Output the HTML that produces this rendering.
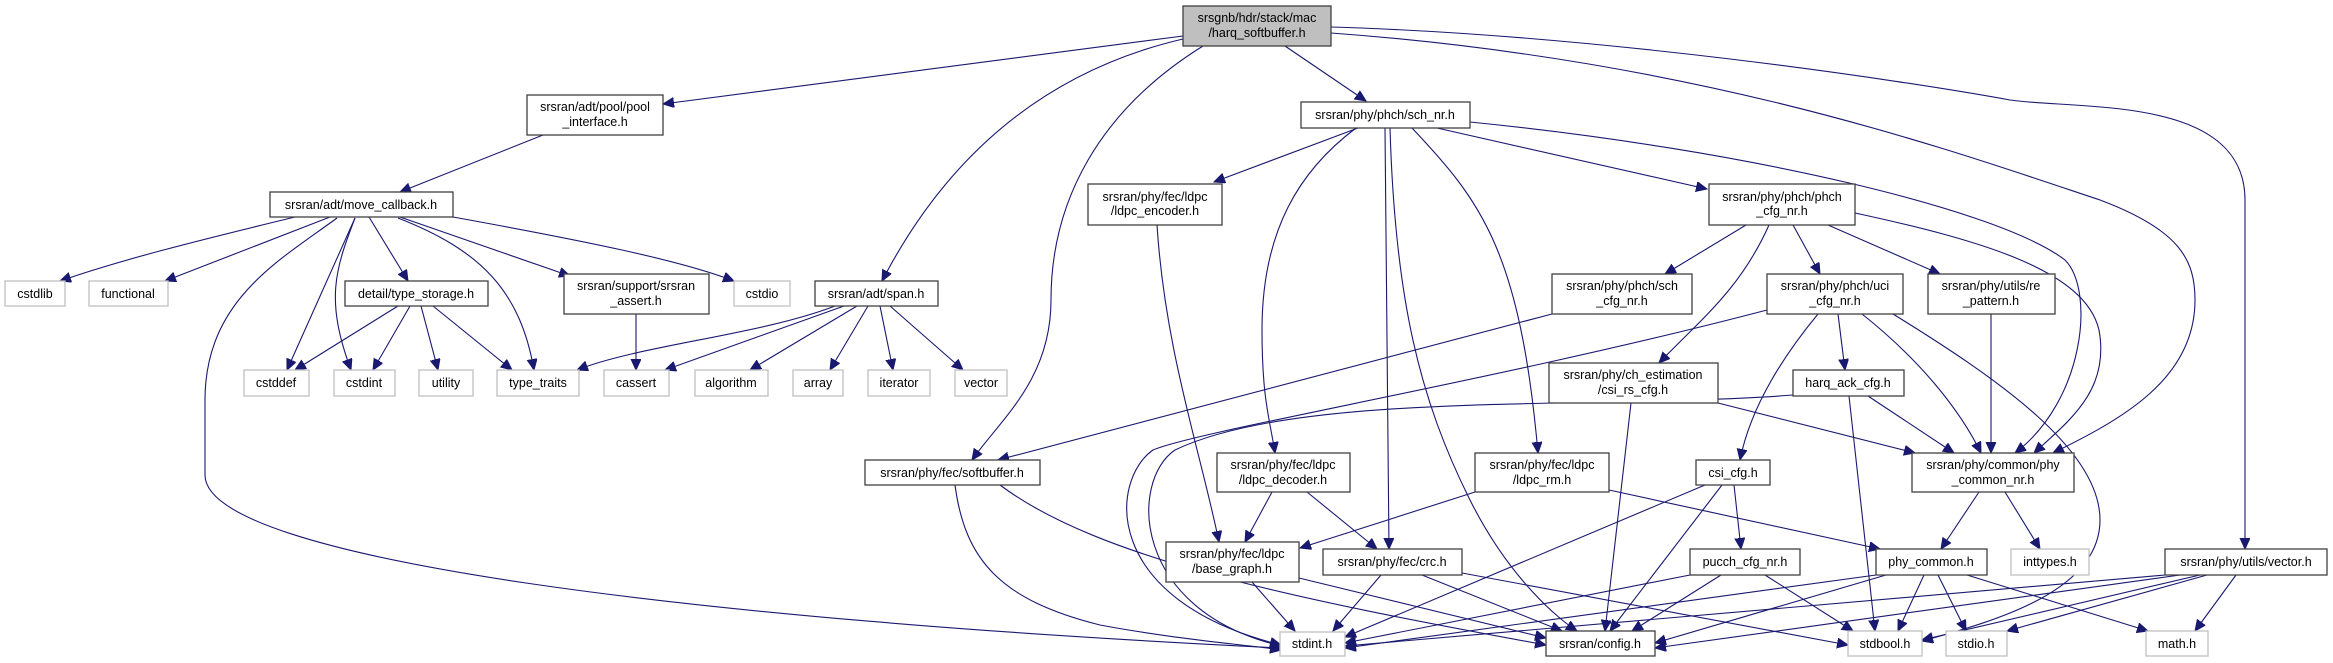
<!DOCTYPE html>
<html><head><meta charset="utf-8"><style>
html,body{margin:0;padding:0;background:#fff;}
svg{display:block;}
text{font-family:"Liberation Sans",Arial,sans-serif;font-size:12.5px;fill:#000;text-anchor:middle;}
.n{fill:#fff;stroke:#404040;stroke-width:1.3;}
.g{fill:#fff;stroke:#bfbfbf;stroke-width:1.3;}
.r{fill:#bfbfbf;stroke:#404040;stroke-width:1.3;}
path{fill:none;stroke:#191970;stroke-width:1.1;}
</style></head><body>
<svg width="2333" height="663" viewBox="0 0 2333 663" xmlns="http://www.w3.org/2000/svg">
<defs>
<marker id="a" markerUnits="userSpaceOnUse" markerWidth="12" markerHeight="12" refX="11" refY="5" orient="auto">
<path d="M0,0 L11,5 L0,10 Z" style="fill:#191970;stroke:#191970;stroke-width:1"/>
</marker>
</defs>
<g marker-end="url(#a)">
<path d="M1183,36 L663,104"/>
<path d="M1183,39 C1050,70 950,150 882,281"/>
<path d="M1203,46 C1100,110 1051,200 1051,300 C1051,380 1000,420 972,460"/>
<path d="M1285,46 L1366,101"/>
<path d="M1331,33 C1700,60 1950,150 2100,200 C2180,230 2195,260 2195,300 C2195,380 2120,420 2053,453"/>
<path d="M1331,27 C1600,35 1900,80 2010,100 C2080,110 2245,95 2245,200 L2245,549"/>
<path d="M543,135 L400,192"/>
<path d="M295,217 C200,240 120,260 60,281"/>
<path d="M330,217 L165,281"/>
<path d="M337,218 C280,260 205,300 205,400 L205,475 C205,560 700,620 1281,648"/>
<path d="M355,218 L287,370"/>
<path d="M355,218 C335,270 325,300 351,370"/>
<path d="M369,217 L408,281"/>
<path d="M398,218 C480,250 520,290 534,370"/>
<path d="M400,217 L570,276"/>
<path d="M453,217 C580,240 680,260 734,281"/>
<path d="M398,306 L295,370"/>
<path d="M410,306 L373,370"/>
<path d="M421,306 L438,370"/>
<path d="M433,306 L512,370"/>
<path d="M636,314 L636,370"/>
<path d="M835,306 C760,335 640,345 577,370"/>
<path d="M844,306 L665,370"/>
<path d="M857,306 L750,370"/>
<path d="M868,306 L830,370"/>
<path d="M880,306 L893,370"/>
<path d="M890,306 L963,370"/>
<path d="M1358,128 L1214,182"/>
<path d="M1437,128 L1707,189"/>
<path d="M1470,122 C1750,150 2000,210 2065,260 C2095,290 2085,400 2015,453"/>
<path d="M1356,128 C1300,170 1262,230 1262,330 C1262,400 1270,420 1275,453"/>
<path d="M1385,128 L1389,549"/>
<path d="M1390,128 C1395,300 1420,400 1470,500 C1510,580 1560,620 1577,631"/>
<path d="M1412,128 C1480,200 1520,250 1538,453"/>
<path d="M1157,225 C1165,350 1200,450 1219,542"/>
<path d="M1746,225 L1665,274"/>
<path d="M1769,225 C1740,290 1700,320 1659,363"/>
<path d="M1793,225 L1820,274"/>
<path d="M1828,225 L1940,274"/>
<path d="M1855,213 C1980,240 2085,270 2099,330 C2110,390 2070,420 2034,453"/>
<path d="M1552,314 L998,460"/>
<path d="M1767,310 C1500,380 1200,430 1153,450 C1110,480 1100,600 1281,645"/>
<path d="M1838,314 L1845,370"/>
<path d="M1818,314 C1780,360 1750,410 1740,460"/>
<path d="M1862,314 C1920,360 1960,410 1981,453"/>
<path d="M1893,314 C2000,380 2100,450 2100,520 C2100,590 2000,620 1922,641"/>
<path d="M1991,314 L1991,453"/>
<path d="M1631,403 L1605,631"/>
<path d="M1718,403 L1915,453"/>
<path d="M1793,395 C1600,410 1300,390 1175,450 C1130,480 1130,610 1281,646"/>
<path d="M1868,396 L1954,453"/>
<path d="M1849,396 L1875,631"/>
<path d="M1705,485 L1345,637"/>
<path d="M1722,485 L1610,631"/>
<path d="M1734,485 L1741,549"/>
<path d="M1979,492 L1941,549"/>
<path d="M2005,492 L2040,549"/>
<path d="M1272,492 L1245,542"/>
<path d="M1307,492 L1377,549"/>
<path d="M1475,492 L1300,548"/>
<path d="M1609,490 L1880,549"/>
<path d="M955,485 C965,560 1000,600 1100,625 C1180,640 1250,645 1281,650"/>
<path d="M1000,485 C1100,560 1300,600 1546,645"/>
<path d="M1252,582 L1295,631"/>
<path d="M1299,578 L1546,638"/>
<path d="M1381,575 L1333,631"/>
<path d="M1422,575 L1562,631"/>
<path d="M1462,573 L1848,645"/>
<path d="M1690,575 L1345,643"/>
<path d="M1721,575 L1632,631"/>
<path d="M1765,575 L1853,631"/>
<path d="M1876,575 L1345,648"/>
<path d="M1886,575 L1655,643"/>
<path d="M1924,575 L1898,631"/>
<path d="M1938,575 L1966,631"/>
<path d="M1967,575 L2148,631"/>
<path d="M2165,575 L1345,646"/>
<path d="M2180,575 L1655,648"/>
<path d="M2200,575 L1922,640"/>
<path d="M2207,575 L2007,631"/>
<path d="M2236,575 L2195,631"/>
</g>

<rect class="r" x="1183" y="6" width="148" height="40"/><text x="1257" y="22">srsgnb/hdr/stack/mac</text><text x="1257" y="37">/harq_softbuffer.h</text>
<rect class="n" x="527" y="95" width="136" height="40"/><text x="595" y="111">srsran/adt/pool/pool</text><text x="595" y="126">_interface.h</text>
<rect class="n" x="1301" y="102" width="169" height="26"/><text x="1385" y="119">srsran/phy/phch/sch_nr.h</text>
<rect class="n" x="270" y="192" width="183" height="25"/><text x="361" y="209">srsran/adt/move_callback.h</text>
<rect class="n" x="1088" y="184" width="134" height="41"/><text x="1155" y="201">srsran/phy/fec/ldpc</text><text x="1155" y="215">/ldpc_encoder.h</text>
<rect class="n" x="1709" y="184" width="146" height="41"/><text x="1782" y="201">srsran/phy/phch/phch</text><text x="1782" y="215">_cfg_nr.h</text>
<rect class="g" x="5" y="281" width="60" height="25"/><text x="35" y="298">cstdlib</text>
<rect class="g" x="89" y="281" width="79" height="25"/><text x="128" y="298">functional</text>
<rect class="n" x="345" y="281" width="143" height="25"/><text x="416" y="298">detail/type_storage.h</text>
<rect class="n" x="564" y="274" width="145" height="40"/><text x="636" y="290">srsran/support/srsran</text><text x="636" y="305">_assert.h</text>
<rect class="g" x="734" y="281" width="56" height="25"/><text x="762" y="298">cstdio</text>
<rect class="n" x="815" y="281" width="123" height="25"/><text x="876" y="298">srsran/adt/span.h</text>
<rect class="n" x="1552" y="274" width="140" height="40"/><text x="1622" y="290">srsran/phy/phch/sch</text><text x="1622" y="305">_cfg_nr.h</text>
<rect class="n" x="1767" y="274" width="136" height="40"/><text x="1835" y="290">srsran/phy/phch/uci</text><text x="1835" y="305">_cfg_nr.h</text>
<rect class="n" x="1928" y="274" width="127" height="40"/><text x="1991" y="290">srsran/phy/utils/re</text><text x="1991" y="305">_pattern.h</text>
<rect class="g" x="244" y="370" width="65" height="26"/><text x="276" y="387">cstddef</text>
<rect class="g" x="334" y="370" width="61" height="26"/><text x="364" y="387">cstdint</text>
<rect class="g" x="419" y="370" width="54" height="26"/><text x="446" y="387">utility</text>
<rect class="g" x="497" y="370" width="82" height="26"/><text x="538" y="387">type_traits</text>
<rect class="g" x="604" y="370" width="65" height="26"/><text x="636" y="387">cassert</text>
<rect class="g" x="695" y="370" width="73" height="26"/><text x="731" y="387">algorithm</text>
<rect class="g" x="793" y="370" width="50" height="26"/><text x="818" y="387">array</text>
<rect class="g" x="868" y="370" width="62" height="26"/><text x="899" y="387">iterator</text>
<rect class="g" x="955" y="370" width="52" height="26"/><text x="981" y="387">vector</text>
<rect class="n" x="1549" y="363" width="169" height="40"/><text x="1633" y="379">srsran/phy/ch_estimation</text><text x="1633" y="394">/csi_rs_cfg.h</text>
<rect class="n" x="1793" y="370" width="111" height="26"/><text x="1848" y="387">harq_ack_cfg.h</text>
<rect class="n" x="865" y="460" width="175" height="25"/><text x="952" y="477">srsran/phy/fec/softbuffer.h</text>
<rect class="n" x="1217" y="453" width="133" height="39"/><text x="1283" y="469">srsran/phy/fec/ldpc</text><text x="1283" y="484">/ldpc_decoder.h</text>
<rect class="n" x="1475" y="453" width="134" height="39"/><text x="1542" y="469">srsran/phy/fec/ldpc</text><text x="1542" y="484">/ldpc_rm.h</text>
<rect class="n" x="1696" y="460" width="74" height="25"/><text x="1733" y="477">csi_cfg.h</text>
<rect class="n" x="1912" y="453" width="162" height="39"/><text x="1993" y="469">srsran/phy/common/phy</text><text x="1993" y="484">_common_nr.h</text>
<rect class="n" x="1166" y="542" width="133" height="40"/><text x="1232" y="558">srsran/phy/fec/ldpc</text><text x="1232" y="573">/base_graph.h</text>
<rect class="n" x="1323" y="549" width="139" height="26"/><text x="1392" y="566">srsran/phy/fec/crc.h</text>
<rect class="n" x="1690" y="549" width="110" height="26"/><text x="1745" y="566">pucch_cfg_nr.h</text>
<rect class="n" x="1876" y="549" width="111" height="26"/><text x="1931" y="566">phy_common.h</text>
<rect class="g" x="2011" y="549" width="78" height="26"/><text x="2050" y="566">inttypes.h</text>
<rect class="n" x="2165" y="549" width="162" height="26"/><text x="2246" y="566">srsran/phy/utils/vector.h</text>
<rect class="g" x="1280" y="632" width="65" height="24"/><text x="1312" y="648">stdint.h</text>
<rect class="n" x="1546" y="631" width="109" height="25"/><text x="1600" y="648">srsran/config.h</text>
<rect class="g" x="1848" y="631" width="74" height="25"/><text x="1885" y="648">stdbool.h</text>
<rect class="g" x="1946" y="631" width="61" height="25"/><text x="1976" y="648">stdio.h</text>
<rect class="g" x="2146" y="631" width="62" height="25"/><text x="2177" y="648">math.h</text>
</svg>
</body></html>
